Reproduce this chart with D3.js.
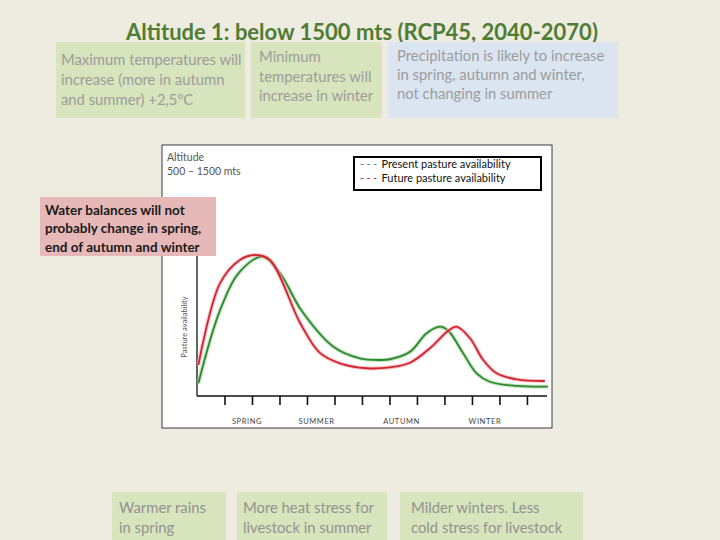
<!DOCTYPE html>
<html>
<head>
<meta charset="utf-8">
<script src="https://cdn.jsdelivr.net/npm/d3@7"></script>
<style>
  body { margin: 0; background: #eeebe1; }
  svg { display: block; font-family: Lato, "Open Sans", sans-serif; }
</style>
</head>
<body>
<div id="chart"></div>
<script>
// months along the x axis (0 = start of spring), availability 0..1
var presentX = [0.05, 0.84, 1.56, 2.39, 3.02, 3.8, 4.96, 5.93, 6.65, 7.02, 7.75, 8.35, 8.84, 9.14, 9.68, 10.17, 10.65, 11.63, 12.76];
var presentY = [0.085, 0.573, 0.829, 0.929, 0.818, 0.57, 0.329, 0.251, 0.24, 0.245, 0.295, 0.418, 0.462, 0.435, 0.285, 0.151, 0.095, 0.067, 0.062];

var futureX = [0.05, 0.84, 1.56, 2.11, 2.65, 3.75, 4.47, 5.2, 6.17, 7.02, 7.75, 8.47, 9.14, 9.44, 9.93, 10.41, 10.9, 11.63, 12.65];
var futureY = [0.207, 0.753, 0.907, 0.94, 0.907, 0.487, 0.287, 0.218, 0.185, 0.191, 0.222, 0.318, 0.435, 0.462, 0.385, 0.24, 0.151, 0.111, 0.1];

var monthTicks = d3.range(1, 13);
var seasons = ["SPRING", "SUMMER", "AUTUMN", "WINTER"];
var seasonPos = [1.82, 4.35, 7.44, 10.47];

var title = "Altitude 1: below 1500 mts (RCP45, 2040-2070)";
var topNotes = [
    ["Maximum temperatures will", "increase (more in autumn", "and summer) +2,5ºC"],
    ["Minimum", "temperatures will", "increase in winter"],
    ["Precipitation is likely to increase", "in spring, autumn and winter,", "not changing in summer"]
];
var bottomNotes = [
    ["Warmer rains", "in spring"],
    ["More heat stress for", "livestock in summer"],
    ["Milder winters. Less", "cold stress for livestock"]
];
var waterNote = ["Water balances will not", "probably change in spring,", "end of autumn and winter"];
var legendNames = ["Present pasture availability", "Future pasture availability"];

var width = 720, height = 540;

var svg = d3.select("#chart")
    .append("svg")
    .attr("width", width)
    .attr("height", height);

svg.append("rect")
    .attr("width", width)
    .attr("height", height)
    .attr("fill", "#eeebe1");

// title
svg.append("text")
    .attr("x", 362)
    .attr("y", 40)
    .attr("text-anchor", "middle")
    .attr("font-size", 22)
    .attr("font-weight", "bold")
    .attr("fill", "#4f7d33")
    .text(title);

// top notes
var topBoxes = [
    {x: 56, w: 189, fill: "#d7e4bc", tx: 61, ty: [60, 80, 100]},
    {x: 251, w: 131, fill: "#d7e4bc", tx: 259, ty: [57, 77, 96]},
    {x: 388, w: 230, fill: "#dbe5f1", tx: 397, ty: [56, 75, 94]}
];
topBoxes.forEach(function(b, i) {
    svg.append("rect")
        .attr("x", b.x).attr("y", 42)
        .attr("width", b.w).attr("height", 76)
        .attr("fill", b.fill);
    topNotes[i].forEach(function(line, j) {
        svg.append("text")
            .attr("x", b.tx)
            .attr("y", b.ty[j])
            .attr("dy", "0.35em")
            .attr("font-size", 14.8)
            .attr("fill", "#9c9c9c")
            .text(line);
    });
});

// chart frame
svg.append("rect")
    .attr("x", 162).attr("y", 145)
    .attr("width", 390).attr("height", 283)
    .attr("fill", "#ffffff")
    .attr("stroke", "#3a3a3a")
    .attr("stroke-width", 1);

svg.append("text")
    .attr("x", 167).attr("y", 157)
    .attr("dy", "0.35em")
    .attr("font-size", 10.5)
    .attr("fill", "#555")
    .text("Altitude");
svg.append("text")
    .attr("x", 167).attr("y", 171)
    .attr("dy", "0.35em")
    .attr("font-size", 10.5)
    .attr("fill", "#555")
    .text("500 – 1500 mts");

var x = d3.scaleLinear()
    .domain([0, 12.73])
    .range([197, 547]);

var y = d3.scaleLinear()
    .domain([0, 1])
    .range([396, 246]);

// axes
svg.append("line")
    .attr("x1", x(0)).attr("x2", x(0))
    .attr("y1", 225).attr("y2", y(0))
    .attr("stroke", "#111").attr("stroke-width", 1.3);

var xAxis = svg.append("g")
    .attr("transform", "translate(0," + y(0) + ")")
    .call(d3.axisBottom(x).tickValues(monthTicks).tickSize(9).tickFormat(""));
xAxis.select(".domain").attr("stroke", "#111").attr("stroke-width", 1.3).attr("d", "M" + x(0) + ",0H" + x(12.73));
xAxis.selectAll(".tick line").attr("stroke", "#111").attr("stroke-width", 1.6);

svg.append("g")
    .selectAll("text")
    .data(seasons)
    .enter()
    .append("text")
    .attr("x", function(d, i) { return x(seasonPos[i]); })
    .attr("y", 421)
    .attr("dy", "0.35em")
    .attr("text-anchor", "middle")
    .attr("font-size", 7.5)
    .attr("letter-spacing", 0.6)
    .attr("fill", "#444")
    .text(function(d) { return d; });

svg.append("text")
    .attr("transform", "translate(184," + 327 + ") rotate(-90)")
    .attr("text-anchor", "middle")
    .attr("dy", "0.35em")
    .attr("font-size", 7.5)
    .attr("fill", "#555")
    .text("Pasture availability");

// curves
var line = d3.line()
    .x(function(d) { return x(d[0]); })
    .y(function(d) { return y(d[1]); })
    .curve(d3.curveCatmullRom.alpha(0.5));

var present = presentX.map(function(v, i) { return [v, presentY[i]]; });
var future = futureX.map(function(v, i) { return [v, futureY[i]]; });

var series = [
    {data: present, color: "#2f8a2f", glow: "#9fd29f"},
    {data: future, color: "#d42432", glow: "#f4a3a8"}
];
series.forEach(function(s) {
    svg.append("path")
        .attr("d", line(s.data))
        .attr("fill", "none")
        .attr("stroke", s.glow)
        .attr("stroke-opacity", 0.6)
        .attr("stroke-width", 4);
    svg.append("path")
        .attr("d", line(s.data))
        .attr("fill", "none")
        .attr("stroke", s.color)
        .attr("stroke-width", 1.8);
});

// legend
svg.append("rect")
    .attr("x", 354).attr("y", 157)
    .attr("width", 187).attr("height", 33)
    .attr("fill", "#fff")
    .attr("stroke", "#000")
    .attr("stroke-width", 2);

var legendColors = ["#2f8a6a", "#b0202e"];
legendNames.forEach(function(name, i) {
    var t = svg.append("text")
        .attr("x", 360)
        .attr("y", 164 + i * 14)
        .attr("dy", "0.35em")
        .attr("font-size", 11)
        .attr("fill", "#111");
    t.append("tspan").attr("fill", legendColors[i]).attr("letter-spacing", 2.4).text("---");
    t.append("tspan").attr("x", 381.5).attr("letter-spacing", 0).text(name);
});

// water balance note
svg.append("rect")
    .attr("x", 40).attr("y", 197)
    .attr("width", 176).attr("height", 59)
    .attr("fill", "#e6b9b8");
waterNote.forEach(function(line, j) {
    svg.append("text")
        .attr("x", 45)
        .attr("y", 210 + j * 18.5)
        .attr("dy", "0.35em")
        .attr("font-size", 13.5)
        .attr("font-weight", "bold")
        .attr("fill", "#1a1a1a")
        .text(line);
});

// bottom notes
var bottomBoxes = [
    {x: 112, w: 114, tx: 119},
    {x: 237, w: 150, tx: 243},
    {x: 400, w: 183, tx: 411}
];
bottomBoxes.forEach(function(b, i) {
    svg.append("rect")
        .attr("x", b.x).attr("y", 492)
        .attr("width", b.w).attr("height", 48)
        .attr("fill", "#d7e4bc");
    bottomNotes[i].forEach(function(line, j) {
        svg.append("text")
            .attr("x", b.tx)
            .attr("y", 508 + j * 19.5)
            .attr("dy", "0.35em")
            .attr("font-size", 14.8)
            .attr("fill", "#929292")
            .text(line);
    });
});
</script>
</body>
</html>
